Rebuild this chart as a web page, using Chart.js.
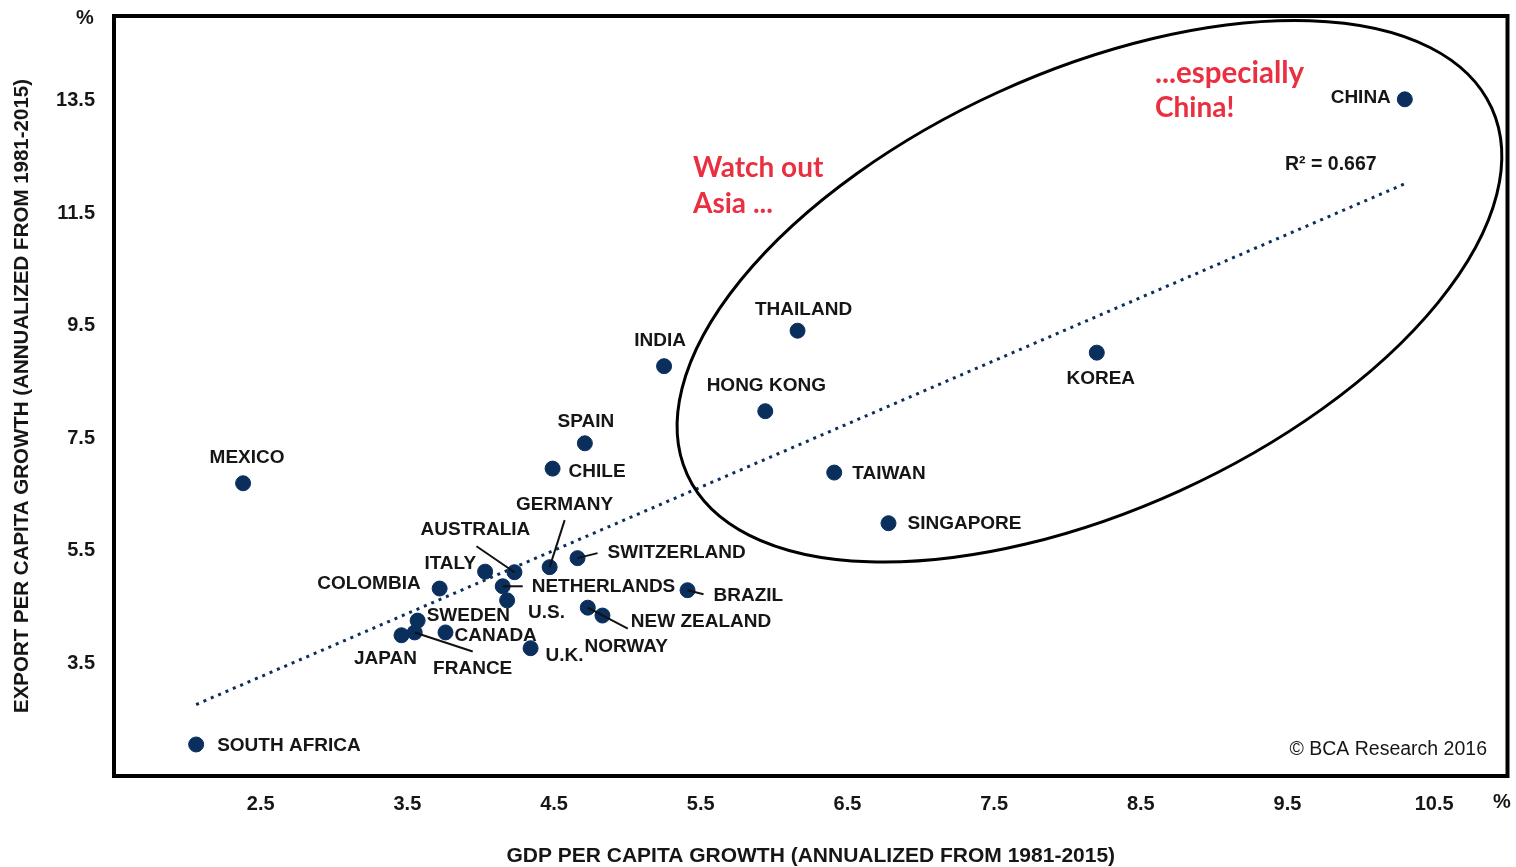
<!DOCTYPE html>
<html>
<head>
<meta charset="utf-8">
<script src="https://cdn.jsdelivr.net/npm/chart.js@4.4.1/dist/chart.umd.min.js"></script>
<style>
html,body{margin:0;padding:0;background:#fff}
</style>
</head>
<body>
<canvas id="c" width="1516" height="867"></canvas>
<script>
// data
const countries = ['CHINA','KOREA','THAILAND','INDIA','HONG KONG','TAIWAN','SINGAPORE','SPAIN','CHILE','MEXICO','GERMANY','SWITZERLAND','AUSTRALIA','ITALY','NETHERLANDS','U.S.','BRAZIL','COLOMBIA','NEW ZEALAND','NORWAY','SWEDEN','FRANCE','CANADA','JAPAN','U.K.','SOUTH AFRICA']
const gdpGrowth = [10.30,8.20,6.16,5.25,5.94,6.41,6.78,4.71,4.49,2.38,4.47,4.66,4.23,4.03,4.15,4.18,5.41,3.72,4.73,4.83,3.57,3.55,3.76,3.46,4.34,2.06]
const exportGrowth = [13.52,9.02,9.41,8.78,7.98,6.89,5.99,7.41,6.96,6.70,5.21,5.37,5.12,5.13,4.87,4.62,4.80,4.83,4.49,4.35,4.26,4.05,4.05,4.00,3.77,2.06]
const trendX = [2.06,10.30]
const trendY = [2.77,12.02]
const xTicks = [2.5,3.5,4.5,5.5,6.5,7.5,8.5,9.5,10.5]
const yTicks = [3.5,5.5,7.5,9.5,11.5,13.5]
const rSquared = 0.667

// label placement: [align, dx, dy] in px from the dot
const labelPos = {
  'CHINA':['right',-14,-2], 'KOREA':['center',4,26], 'THAILAND':['center',6,-21], 'INDIA':['center',-4,-25],
  'HONG KONG':['center',1,-25], 'TAIWAN':['left',18,1], 'SINGAPORE':['left',19,1], 'SPAIN':['center',1,-22],
  'CHILE':['left',16,3], 'MEXICO':['center',4,-25], 'GERMANY':['center',15,-62], 'SWITZERLAND':['left',30,-5],
  'AUSTRALIA':['center',-39,-42], 'ITALY':['right',-9,-8], 'NETHERLANDS':['left',29,0], 'U.S.':['left',21,12],
  'BRAZIL':['left',26,6], 'COLOMBIA':['right',-19,-5], 'NEW ZEALAND':['left',43,14], 'NORWAY':['left',-18,31],
  'SWEDEN':['left',9,-5], 'FRANCE':['center',58,36], 'CANADA':['left',9,3], 'JAPAN':['center',-16,24],
  'U.K.':['left',15,8], 'SOUTH AFRICA':['left',21,1]
}
// leader lines: [dx, dy] end point from the dot
const leaders = {
  'AUSTRALIA':[-38,-26], 'GERMANY':[15,-47], 'SWITZERLAND':[20,-5], 'NETHERLANDS':[20,0],
  'BRAZIL':[16,4], 'NEW ZEALAND':[40,21], 'FRANCE':[58,19]
}
const ellipseCenter = [8.15,10.11]

const navy = '#0b2f5d'
const red = '#ea3040'
const ink = '#161616'
const fam = '"Liberation Sans", Arial, sans-serif'

const pts = gdpGrowth.map((v,i) => ({x:v, y:exportGrowth[i]}))
const trend = trendX.map((v,i) => ({x:v, y:trendY[i]}))

const annot = {
  id:'annot',
  afterDatasetsDraw(chart){
    const {ctx, chartArea:a, scales:{x,y}} = chart
    ctx.save()
    ctx.strokeStyle = '#000'
    ctx.lineWidth = 4
    ctx.strokeRect(a.left, a.top, a.right-a.left, a.bottom-a.top)
    ctx.lineWidth = 3
    ctx.beginPath()
    ctx.ellipse(x.getPixelForValue(ellipseCenter[0]), y.getPixelForValue(ellipseCenter[1]), 442, 219, -24.5*Math.PI/180, 0, Math.PI*2)
    ctx.stroke()

    const meta = chart.getDatasetMeta(1)
    ctx.lineWidth = 2
    ctx.strokeStyle = '#111'
    meta.data.forEach((p,i) => {
      const l = leaders[countries[i]]
      if (!l) return
      ctx.beginPath(); ctx.moveTo(p.x,p.y); ctx.lineTo(p.x+l[0],p.y+l[1]); ctx.stroke()
    })
    ctx.fillStyle = ink
    ctx.font = 'bold 19px '+fam
    ctx.textBaseline = 'middle'
    meta.data.forEach((p,i) => {
      const lp = labelPos[countries[i]]
      ctx.textAlign = lp[0]
      ctx.fillText(countries[i], p.x+lp[1], p.y+lp[2])
    })
    ctx.font = 'bold 19.5px '+fam
    ctx.textAlign = 'left'
    ctx.fillText('R² = ' + rSquared.toFixed(3), 1285, 165)
    ctx.font = '19.5px '+fam
    ctx.textAlign = 'right'
    ctx.fillText('© BCA Research 2016', 1487, 750)
    ctx.font = 'bold 20px '+fam
    ctx.textAlign = 'center'
    ctx.fillText('%', 85, 18)
    ctx.fillText('%', 1502, 802)

    ctx.fillStyle = red
    ctx.font = 'bold 28px Lato, "Noto Sans", sans-serif'
    ctx.textAlign = 'left'
    ctx.fillText('Watch out', 693, 168)
    ctx.fillText('Asia ...', 693, 204)
    ctx.font = 'bold 29.5px Lato, "Noto Sans", sans-serif'
    ctx.fillText('...especially', 1155, 73)
    ctx.font = 'bold 28px Lato, "Noto Sans", sans-serif'
    ctx.fillText('China!', 1155, 108)
    ctx.restore()
  }
}

new Chart(document.getElementById('c'), {
  type:'scatter',
  data:{
    datasets:[
      {data:trend, showLine:true, borderColor:navy, borderWidth:3, borderDash:[3,5], pointRadius:0, order:2},
      {data:pts, backgroundColor:navy, borderColor:navy, pointRadius:7.5, pointHoverRadius:7.5, order:1}
    ]
  },
  options:{
    responsive:false,
    animation:false,
    layout:{padding:{top:16, right:5, left:0, bottom:0}},
    plugins:{legend:{display:false}, tooltip:{enabled:false}},
    scales:{
      x:{
        type:'linear', min:1.5, max:11,
        afterBuildTicks: s => { s.ticks = xTicks.map(v => ({value:v})) },
        afterFit: s => { s.height = 91; s.paddingLeft = 0; s.paddingRight = 0 },
        grid:{display:false, drawTicks:false}, border:{display:false},
        ticks:{autoSkip:false, maxRotation:0, padding:16, color:ink, font:{family:fam, size:20, weight:'bold'}, callback: v => v.toFixed(1)},
        title:{display:true, text:'GDP PER CAPITA GROWTH (ANNUALIZED FROM 1981-2015)', color:ink, font:{family:fam, size:21, weight:'bold'}, padding:{top:0, bottom:-2}}
      },
      y:{
        type:'linear', min:1.5, max:15,
        afterBuildTicks: s => { s.ticks = yTicks.map(v => ({value:v})) },
        afterFit: s => { s.width = 114; s.paddingTop = 0; s.paddingBottom = 0 },
        grid:{display:false, drawTicks:false}, border:{display:false},
        ticks:{autoSkip:false, padding:19, color:ink, font:{family:fam, size:20, weight:'bold'}, callback: v => v.toFixed(1)},
        title:{display:true, text:'EXPORT PER CAPITA GROWTH (ANNUALIZED FROM 1981-2015)', color:ink, font:{family:fam, size:20.5, weight:'bold'}, padding:{top:10, bottom:0}}
      }
    }
  },
  plugins:[annot]
})
</script>
</body>
</html>
